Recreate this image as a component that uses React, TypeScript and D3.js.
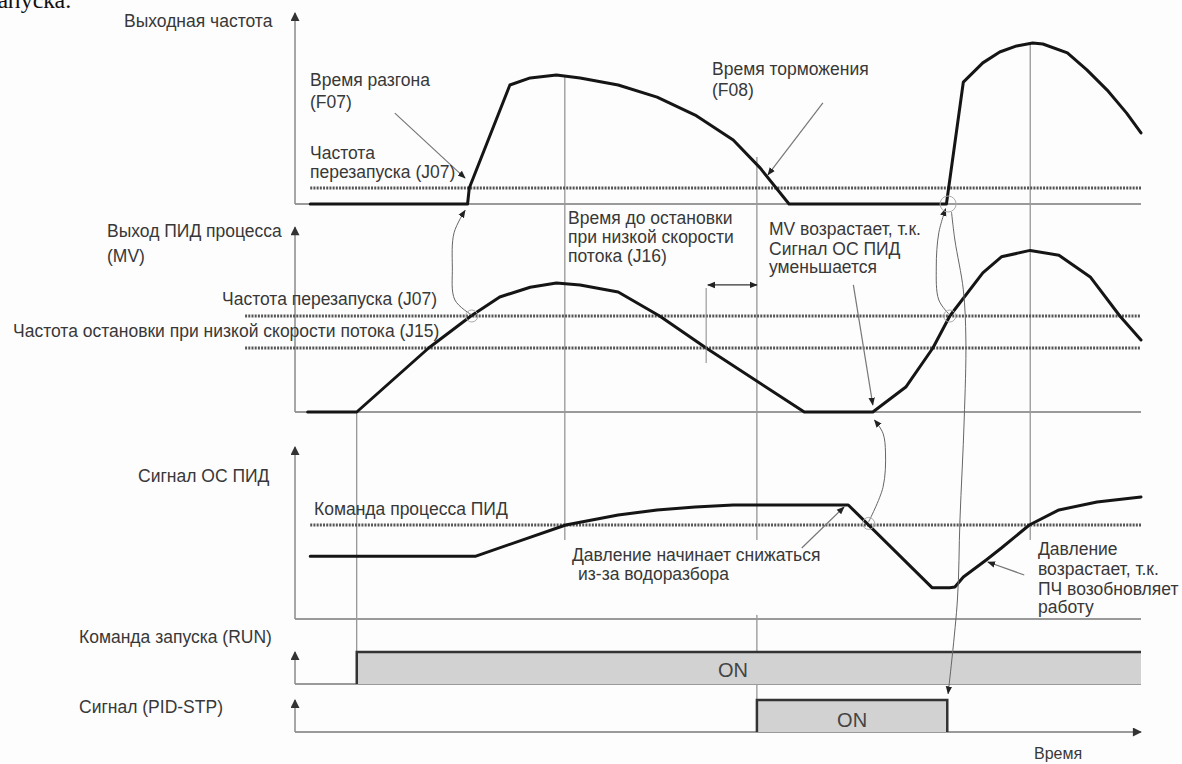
import { useEffect, useRef } from 'react';
import * as d3 from 'd3';

// time axis: 0..100 (% of the shown window)
// output frequency, Hz
const freqSeries: [number, number][] = [
  [1.8, 0], [20.4, 0], [20.6, 5], [25.4, 37.2], [27.8, 39.4], [30.9, 40.3], [33.7, 39.4],
  [38.2, 37.2], [42.8, 33.4], [47.3, 27.8], [51.8, 20], [55.0, 11.2], [58.4, 0],
  [77.0, 0], [79.0, 38.1], [81.3, 44.1], [83.3, 47.5], [85.3, 49.4], [87.2, 50.3],
  [88.4, 50], [91.3, 47.2], [93.6, 41.9], [96.0, 35.6], [98.3, 28.4], [100, 22.2],
];
// PID output MV, %
const mvSeries: [number, number][] = [
  [1.5, 0], [7.3, 0], [15.8, 40], [20.8, 60], [24.2, 71.9], [27.8, 78], [30.9, 80.6],
  [33.7, 79.4], [38.2, 75], [43.1, 60], [48.6, 40], [60.2, 0], [68.3, 0], [72.2, 15.6],
  [75.4, 40], [77.4, 60], [81.3, 87], [83.5, 97], [86.9, 101], [90.3, 98], [94.0, 84.4],
  [97.5, 60], [100, 45],
];
// PID feedback, %
const fbSeries: [number, number][] = [
  [1.8, 40], [21.3, 40], [32.0, 60], [38.2, 66.4], [42.8, 69.6], [47.3, 71.5], [51.8, 72.8],
  [65.4, 72.8], [75.3, 20], [77.4, 20], [78.0, 20.4], [79.0, 26.8], [81.7, 37.7],
  [83.5, 45.3], [86.8, 60], [90.3, 69.6], [94.8, 74.7], [100, 77.9],
];
const runOn: [number, number] = [7.3, 100];
const stpOn: [number, number] = [54.6, 77.1];

const freqRestart = 5; // J07
const mvRestart = 60; // J07
const mvStop = 40; // J15
const fbSetpoint = 60;
const guideTimes = [7.3, 31.9, 54.6, 86.9];

// annotation geometry: [t, panel, value]
type P = [number, string, number];
const pointers: P[][] = [
  [[11.8, 'f', 28.4], [20.1, 'f', 8.1]],
  [[62.4, 'f', 31.6], [55.9, 'f', 9.1]],
  [[66.0, 'mv', 79.4], [68.3, 'mv', 4.4]],
  [[59.9, 'fb', 45.3], [64.9, 'fb', 71.5]],
  [[86.2, 'fb', 28.1], [81.9, 'fb', 36.4]],
];
const links: P[][] = [
  [[20.9, 'mv', 60.6], [18.9, 'mv', 70], [18.6, 'mv', 90.6], [18.8, 'mv', 112], [20.1, 'mv', 126]],
  [[77.4, 'mv', 60.6], [76.1, 'mv', 70], [75.8, 'mv', 90.6], [76.1, 'mv', 112], [76.9, 'mv', 127]],
  [[67.8, 'fb', 62], [69.5, 'fb', 84], [69.8, 'fb', 106], [69.5, 'fb', 118.6], [68.5, 'fb', 127]],
  [[77.6, 'mv', 125], [78.0, 'mv', 107.5], [79.0, 'mv', 76.3], [79.3, 'mv', 45], [79.1, 'fb', 127],
    [78.6, 'fb', 63.2], [78.3, 'fb', 12.1], [77.2, 'stp', 1.2]],
];
const rings: [number, string, number, number][] = [
  [20.9, 'mv', 60, 6], [77.4, 'mv', 60, 6], [77.2, 'f', 0, 8], [67.8, 'fb', 61, 6],
];

const axisTitles = ['Выходная частота', 'Выход ПИД процесса', '(MV)', 'Сигнал ОС ПИД', 'Команда запуска (RUN)', 'Сигнал  (PID-STP)'];
const levelLabels = ['Частота перезапуска (J07)', 'Частота остановки при низкой скорости потока (J15)', 'Команда процесса ПИД'];

export default function App() {
  const ref = useRef<SVGSVGElement>(null);

  useEffect(() => {
    const svg = d3.select(ref.current);
    svg.selectAll('*').remove();

    const x = d3.scaleLinear().domain([0, 100]).range([295, 1141]);
    const Y: Record<string, d3.ScaleLinear<number, number>> = {
      f: d3.scaleLinear().domain([0, 50]).range([204, 44]),
      mv: d3.scaleLinear().domain([0, 100]).range([412, 252]),
      fb: d3.scaleLinear().domain([0, 60]).range([619, 525]),
      run: d3.scaleLinear().domain([0, 1]).range([684, 652]),
      stp: d3.scaleLinear().domain([0, 1]).range([732, 700]),
    };
    const pt = (p: P): [number, number] => [x(p[0]), Y[p[1]](p[2])];

    const defs = svg.append('defs');
    defs.append('marker').attr('id', 'ah').attr('viewBox', '0 0 10 10')
      .attr('refX', 9).attr('refY', 5).attr('markerWidth', 8).attr('markerHeight', 8)
      .attr('markerUnits', 'userSpaceOnUse').attr('orient', 'auto-start-reverse')
      .append('path').attr('d', 'M0,1 L10,5 L0,9 Z').attr('fill', '#222');
    defs.append('marker').attr('id', 'ax').attr('viewBox', '0 0 10 10')
      .attr('refX', 9).attr('refY', 5).attr('markerWidth', 11).attr('markerHeight', 9)
      .attr('markerUnits', 'userSpaceOnUse').attr('orient', 'auto')
      .append('path').attr('d', 'M0,0 L10,5 L0,10 Z').attr('fill', '#333');

    svg.append('rect').attr('width', 1182).attr('height', 764).attr('fill', '#fdfdfd');

    const font = "'Liberation Sans', Arial, sans-serif";
    const txt = (s: string, px: number, py: number, size = 17.5, anchor = 'start') =>
      svg.append('text').attr('x', px).attr('y', py).attr('font-family', font)
        .attr('font-size', size).attr('fill', '#383838').attr('text-anchor', anchor).text(s);

    // page text fragment above the figure
    svg.append('text').attr('x', -12).attr('y', 8).attr('font-family', "'Liberation Serif', serif")
      .attr('font-size', 24).attr('fill', '#111').text('запуска.');

    // guide verticals
    const vline = (t: number, y1: number, y2: number) =>
      svg.append('line').attr('x1', x(t)).attr('x2', x(t)).attr('y1', y1).attr('y2', y2)
        .attr('stroke', '#777').attr('stroke-width', 1);
    vline(guideTimes[0], Y.mv(0), Y.run(0));
    vline(guideTimes[1], Y.f(40.3), Y.fb(50.4));
    vline(guideTimes[2], Y.f(14.7), Y.fb(50.4));
    vline(guideTimes[2], Y.fb(2.6), Y.stp(0));
    vline(guideTimes[3], Y.f(50.3), Y.fb(50.4));

    // baselines and vertical axes
    const panels: [string, number][] = [['f', 59.7], ['mv', 115.6], ['fb', 109.8], ['run', 1.0], ['stp', 1.0]];
    panels.forEach(([k, top]) => {
      svg.append('line').attr('x1', x(0)).attr('x2', x(100)).attr('y1', Y[k](0)).attr('y2', Y[k](0))
        .attr('stroke', '#9a9a9a').attr('stroke-width', 2)
        .attr('marker-end', k === 'stp' ? 'url(#ax)' : null);
      svg.append('line').attr('x1', x(0)).attr('x2', x(0)).attr('y1', Y[k](0)).attr('y2', Y[k](top))
        .attr('stroke', '#8a8a8a').attr('stroke-width', 1.5).attr('marker-end', 'url(#ax)');
    });

    // threshold levels
    const level = (k: string, v: number, t0: number) =>
      svg.append('line').attr('x1', x(t0)).attr('x2', x(100)).attr('y1', Y[k](v)).attr('y2', Y[k](v))
        .attr('stroke', '#555').attr('stroke-width', 3).attr('stroke-dasharray', '2 1.2');
    level('f', freqRestart, 1.8);
    level('mv', mvRestart, -5.9);
    level('mv', mvStop, -5.9);
    level('fb', fbSetpoint, 1.8);

    // digital signals
    const digital = (k: string, [a, b]: [number, number], closed: boolean) => {
      svg.append('rect').attr('x', x(a)).attr('y', Y[k](1)).attr('width', x(b) - x(a))
        .attr('height', Y[k](0) - Y[k](1)).attr('fill', '#d2d2d2');
      const p = d3.path();
      p.moveTo(x(a), Y[k](0)); p.lineTo(x(a), Y[k](1)); p.lineTo(x(b), Y[k](1));
      if (closed) p.lineTo(x(b), Y[k](0));
      svg.append('path').attr('d', p.toString()).attr('fill', 'none').attr('stroke', '#333').attr('stroke-width', 2.5);
    };
    digital('run', runOn, false);
    digital('stp', stpOn, true);

    // analog curves
    const draw = (k: string, data: [number, number][]) =>
      svg.append('path').datum(data)
        .attr('d', d3.line<[number, number]>().x((d) => x(d[0])).y((d) => Y[k](d[1])).curve(d3.curveLinear))
        .attr('fill', 'none').attr('stroke', '#151515').attr('stroke-width', 3)
        .attr('stroke-linejoin', 'round').attr('stroke-linecap', 'round');
    draw('f', freqSeries);
    draw('mv', mvSeries);
    draw('fb', fbSeries);

    // causal links (thin curves) and rings
    links.forEach((pts) => {
      svg.append('path').attr('d', d3.line().curve(d3.curveCatmullRom)(pts.map(pt)))
        .attr('fill', 'none').attr('stroke', '#666').attr('stroke-width', 1)
        .attr('marker-end', 'url(#ah)');
    });
    rings.forEach(([t, k, v, r]) => {
      svg.append('circle').attr('cx', x(t)).attr('cy', Y[k](v)).attr('r', r)
        .attr('fill', 'none').attr('stroke', '#aaa').attr('stroke-width', 1);
    });
    pointers.forEach((pts) => {
      const [a, b] = pts.map(pt);
      svg.append('line').attr('x1', a[0]).attr('y1', a[1]).attr('x2', b[0]).attr('y2', b[1])
        .attr('stroke', '#777').attr('stroke-width', 1.2).attr('marker-end', 'url(#ah)');
    });
    // J16 interval
    svg.append('line').attr('x1', x(48.8)).attr('x2', x(54.6)).attr('y1', Y.mv(79.4)).attr('y2', Y.mv(79.4))
      .attr('stroke', '#333').attr('stroke-width', 1.2)
      .attr('marker-start', 'url(#ah)').attr('marker-end', 'url(#ah)');
    svg.append('line').attr('x1', x(48.6)).attr('x2', x(48.6)).attr('y1', Y.mv(77.5)).attr('y2', Y.mv(30.6))
      .attr('stroke', '#888').attr('stroke-width', 1);

    // axis titles
    txt(axisTitles[0], 124, 27);
    txt(axisTitles[1], 107, 237);
    txt(axisTitles[2], 107, 262);
    txt(axisTitles[3], 138, 482);
    txt(axisTitles[4], 79, 643);
    txt(axisTitles[5], 79, 713);

    // level labels
    txt(levelLabels[0], 222, 305);
    txt(levelLabels[1], 13, 337);
    txt(levelLabels[2], 314, 515);

    // notes
    txt('Время разгона', 310, 86); txt('(F07)', 310, 108);
    txt('Частота', 310, 159); txt('перезапуска (J07)', 310, 178);
    txt('Время торможения', 712, 75); txt('(F08)', 712, 96);
    txt('Время до остановки', 568, 224); txt('при низкой скорости', 568, 243); txt('потока (J16)', 568, 262);
    txt('MV возрастает, т.к.', 769, 235); txt('Сигнал ОС ПИД', 769, 255); txt('уменьшается', 769, 273);
    txt('Давление начинает снижаться', 572, 561); txt('из-за водоразбора', 578, 580);
    txt('Давление', 1038, 555); txt('возрастает, т.к.', 1038, 575); txt('ПЧ возобновляет', 1038, 595); txt('работу', 1038, 613);
    txt('ON', 733, 677, 20, 'middle').attr('fill', '#444');
    txt('ON', x((stpOn[0] + stpOn[1]) / 2), 727, 20, 'middle').attr('fill', '#444');
    txt('Время', 1034, 759, 16);
  }, []);

  return (
    <svg ref={ref} width={1182} height={764} style={{ position: 'absolute', left: 0, top: 0 }} />
  );
}
